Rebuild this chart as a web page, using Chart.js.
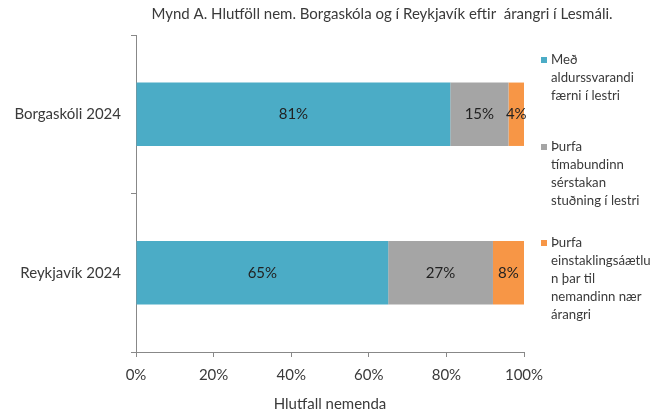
<!DOCTYPE html>
<html><head><meta charset="utf-8">
<script src="https://cdn.jsdelivr.net/npm/chart.js@4"></script>
<style>html,body{margin:0;padding:0;background:#fff}#wrap{width:651px;height:411px;position:relative}</style>
</head><body><div id="wrap"><canvas id="c" width="651" height="411"></canvas></div>
<script>
const categories = ["Borgaskóli 2024", "Reykjavík 2024"];
const seriesNames = ["Með aldurssvarandi færni í lestri", "Þurfa tímabundinn sérstakan stuðning í lestri", "Þurfa einstaklingsáætlun þar til nemandinn nær árangri"];
const legendLines = [["Með", "aldurssvarandi", "færni í lestri"], ["Þurfa", "tímabundinn", "sérstakan", "stuðning í lestri"], ["Þurfa", "einstaklingsáætlu", "n þar til", "nemandinn nær", "árangri"]];
const adequate = [81, 65];
const temporary = [15, 27];
const individual = [4, 8];
const xTicks = [0, 20, 40, 60, 80, 100];
const colors = ["#4BACC6", "#A5A5A5", "#F79646"];
const titleText = "Mynd A. Hlutföll nem. Borgaskóla og í Reykjavík eftir  árangri í Lesmáli.";
const FONT = "Lato, 'Open Sans', sans-serif";
const TXT = '#3a3a3a';

const extras = {
  id: 'extras',
  afterDatasetsDraw(chart) {
    const ctx = chart.ctx;
    ctx.save();
    ctx.fillStyle = '#222';
    ctx.font = '15px ' + FONT;
    ctx.textAlign = 'center';
    ctx.textBaseline = 'middle';
    chart.data.datasets.forEach((ds, di) => {
      chart.getDatasetMeta(di).data.forEach((bar, i) => {
        const x = (bar.x + bar.base) / 2;
        ctx.fillText(ds.data[i] + '%', x, bar.y);
      });
    });
    ctx.restore();
  },
  afterDraw(chart) {
    const ctx = chart.ctx;
    ctx.save();
    ctx.fillStyle = TXT;
    ctx.font = '15px ' + FONT;
    ctx.textAlign = 'center';
    ctx.textBaseline = 'middle';
    ctx.fillText(titleText, 382, 14);
    // legend
    ctx.font = '13.2px ' + FONT;
    ctx.textAlign = 'left';
    const starts = [60, 147, 243];
    legendLines.forEach((lines, si) => {
      ctx.fillStyle = colors[si];
      ctx.fillRect(541, starts[si] - 3, 6, 6);
      ctx.fillStyle = TXT;
      lines.forEach((t, li) => ctx.fillText(t, 551, starts[si] + li * 18));
    });
    ctx.restore();
  }
};

new Chart(document.getElementById('c'), {
  type: 'bar',
  data: {
    labels: categories,
    datasets: [
      { label: seriesNames[0], data: adequate, backgroundColor: colors[0] },
      { label: seriesNames[1], data: temporary, backgroundColor: colors[1] },
      { label: seriesNames[2], data: individual, backgroundColor: colors[2] }
    ]
  },
  options: {
    indexAxis: 'y',
    responsive: false,
    animation: false,
    layout: { padding: { top: 35, right: 127, left: 0, bottom: 0 } },
    datasets: { bar: { categoryPercentage: 0.4, barPercentage: 1 } },
    plugins: { legend: { display: false }, tooltip: { enabled: false }, title: { display: false } },
    scales: {
      x: {
        stacked: true, min: 0, max: 100,
        afterBuildTicks(s) { s.ticks = xTicks.map(v => ({ value: v })); },
        afterFit(s) { s.height = 59; },
        ticks: { callback: v => v + '%', color: TXT, font: { family: FONT, size: 15 }, padding: 9, maxRotation: 0 },
        grid: { drawOnChartArea: false, tickLength: 5, color: '#888' },
        border: { color: '#888' },
        title: { display: true, text: 'Hlutfall nemenda', color: TXT, font: { family: FONT, size: 15 }, padding: { top: 8, bottom: -2 } }
      },
      y: {
        stacked: true,
        afterFit(s) { s.width = 136; },
        ticks: { color: TXT, font: { family: FONT, size: 15 }, padding: 10 },
        grid: { offset: true, drawOnChartArea: false, tickLength: 5, color: '#888' },
        border: { color: '#888' }
      }
    }
  },
  plugins: [extras]
});
</script></body></html>
